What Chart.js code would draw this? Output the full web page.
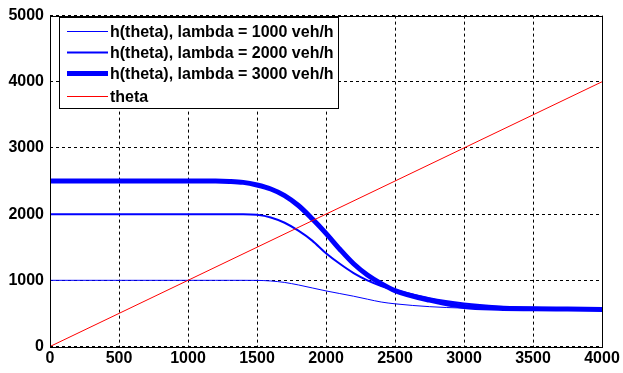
<!DOCTYPE html>
<html>
<head>
<meta charset="utf-8">
<script src="https://cdn.jsdelivr.net/npm/chart.js@4/dist/chart.umd.min.js"></script>
<style>
  html, body { margin: 0; padding: 0; background: #fff; }
  #wrap { width: 623px; height: 373px; position: relative; }
</style>
</head>
<body>
<div id="wrap"><canvas id="c"></canvas></div>
<script>
// theta (veh/h) sample points
const thetaPoints = [0, 500, 1000, 1200, 1300, 1400, 1500, 1600, 1700, 1800, 1900, 2000, 2100, 2200, 2300, 2400, 2500, 2750, 3000, 3250, 3500, 3750, 4000];
// h(theta) for each arrival rate lambda
const h1000 = [1000, 1000, 1000, 1000, 1000, 1000, 999, 990, 968, 930, 885, 840, 800, 760, 715, 672, 645, 602, 580, 570, 565, 562, 560];
const h2000 = [2000, 2000, 2000, 2000, 2000, 2000, 1990, 1950, 1870, 1750, 1600, 1410, 1250, 1110, 1000, 915, 855, 730, 650, 605, 585, 572, 565];
const h3000 = [2500, 2500, 2500, 2500, 2495, 2480, 2440, 2380, 2280, 2130, 1930, 1710, 1470, 1250, 1080, 950, 845, 700, 605, 578, 570, 565, 560];
const thetaLine = [0, 4000];
const xTicks = [0, 500, 1000, 1500, 2000, 2500, 3000, 3500, 4000];
const yTicks = [0, 1000, 2000, 3000, 4000, 5000];

const FONT = { family: '"Liberation Sans", Arial, sans-serif', size: 16, weight: 'bold' };

const pts = (xs, ys) => xs.map((x, i) => ({ x: x, y: ys[i] }));

// MATLAB style frame around the plot area
const framePlugin = {
  id: 'frame',
  afterDatasetsDraw(chart) {
    const { ctx, chartArea: a } = chart;
    ctx.save();
    ctx.strokeStyle = '#000';
    ctx.lineWidth = 1;
    ctx.strokeRect(Math.round(a.left) + 0.5, Math.round(a.top) + 0.5, Math.round(a.right - a.left), Math.round(a.bottom - a.top));
    ctx.restore();
  }
};

// boxed legend inside the axes, top-left
const legendPlugin = {
  id: 'boxLegend',
  afterDraw(chart) {
    const { ctx } = chart;
    const x0 = 59, y0 = 17, w = 279, h = 91;
    ctx.save();
    ctx.fillStyle = '#fff';
    ctx.fillRect(x0, y0, w, h);
    ctx.strokeStyle = '#000';
    ctx.lineWidth = 1;
    ctx.strokeRect(x0 + 0.5, y0 + 0.5, w, h);
    ctx.font = `${FONT.weight} ${FONT.size}px ${FONT.family}`;
    ctx.textBaseline = 'middle';
    ctx.fillStyle = '#000';
    const rows = [31.5, 52.5, 73.5, 96.5];
    chart.data.datasets.forEach((ds, i) => {
      const y = rows[i];
      ctx.beginPath();
      ctx.strokeStyle = ds.borderColor;
      ctx.lineWidth = ds.borderWidth;
      ctx.moveTo(67, y);
      ctx.lineTo(108, y);
      ctx.stroke();
      ctx.fillText(ds.label, 110, y + 1);
    });
    ctx.restore();
  }
};

new Chart(document.getElementById('c'), {
  type: 'line',
  data: {
    datasets: [
      { label: 'h(theta), lambda = 1000 veh/h', data: pts(thetaPoints, h1000), borderColor: '#0000ff', borderWidth: 1, order: 3 },
      { label: 'h(theta), lambda = 2000 veh/h', data: pts(thetaPoints, h2000), borderColor: '#0000ff', borderWidth: 2, order: 2 },
      { label: 'h(theta), lambda = 3000 veh/h', data: pts(thetaPoints, h3000), borderColor: '#0000ff', borderWidth: 5, order: 1 },
      { label: 'theta', data: pts(thetaLine, thetaLine), borderColor: '#ff0000', borderWidth: 1, order: 0 }
    ]
  },
  options: {
    responsive: true,
    maintainAspectRatio: false,
    animation: false,
    devicePixelRatio: 1,
    layout: { padding: { left: 0, right: 21, top: 11.5, bottom: 0 } },
    elements: {
      point: { radius: 0 },
      line: { cubicInterpolationMode: 'monotone', fill: false }
    },
    plugins: { legend: { display: false }, tooltip: { enabled: false } },
    scales: {
      x: {
        type: 'linear',
        min: 0, max: 4000,
        afterBuildTicks: s => { s.ticks = xTicks.map(v => ({ value: v })); },
        afterFit: s => { s.height = 26.5; },
        ticks: { color: '#000', font: FONT, padding: 2, maxRotation: 0, callback: v => String(v) },
        grid: { color: '#000', lineWidth: 1, drawTicks: false },
        border: { display: false, dash: [3, 3] }
      },
      y: {
        type: 'linear',
        min: 0, max: 5000,
        afterBuildTicks: s => { s.ticks = yTicks.map(v => ({ value: v })); },
        afterFit: s => { s.width = 50; },
        ticks: { color: '#000', font: FONT, padding: 6, callback: v => String(v) },
        grid: { color: '#000', lineWidth: 1, drawTicks: false },
        border: { display: false, dash: [3, 3] }
      }
    }
  },
  plugins: [framePlugin, legendPlugin]
});
</script>
</body>
</html>
